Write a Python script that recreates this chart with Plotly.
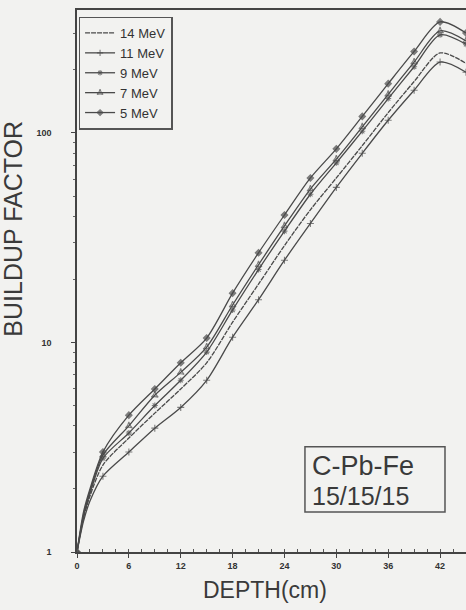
import plotly.graph_objects as go

# Depth in the C-Pb-Fe slab (cm)
depth = [0, 0.75, 1.5, 3, 6, 9, 12, 15, 18, 21, 24, 27, 30, 33, 36, 39, 42, 45]

# Buildup factor versus depth for each source energy
b_5mev = [1, 1.55, 2.0, 3.0, 4.5, 6.0, 8.0, 10.5, 17.2, 26.8, 40.6, 61, 84, 120, 172, 245, 339, 300]
b_7mev = [1, 1.5, 1.95, 2.9, 4.0, 5.6, 7.2, 9.5, 15.1, 23.5, 36, 54, 75, 107, 153, 218, 307, 275]
b_9mev = [1, 1.48, 1.9, 2.8, 3.7, 5.0, 6.6, 9.0, 14.3, 22.3, 34, 51, 72, 102, 146, 207, 294, 265]
b_14mev = [1, 1.45, 1.85, 2.6, 3.5, 4.6, 6.0, 8.0, 12.5, 19, 29, 43, 61, 87, 125, 176, 241, 215]
b_11mev = [1, 1.4, 1.75, 2.3, 3.0, 3.9, 4.9, 6.6, 10.6, 16, 24.7, 37, 55, 80, 115, 160, 218, 195]

legend_order = ["14 MeV", "11 MeV", "9 MeV", "7 MeV", "5 MeV"]
series = {
    "14 MeV": b_14mev,
    "11 MeV": b_11mev,
    "9 MeV": b_9mev,
    "7 MeV": b_7mev,
    "5 MeV": b_5mev,
}
symbols = {
    "14 MeV": None,
    "11 MeV": "cross-thin-open",
    "9 MeV": "asterisk-open",
    "7 MeV": "star-triangle-up-open",
    "5 MeV": "diamond",
}

x_ticks = [0, 6, 12, 18, 24, 30, 36, 42]
y_ticks = [1, 10, 100]

ink = "#4a4a4a"
marker_sizes = [5 if d % 3 == 0 else 0 for d in depth]

fig = go.Figure()
for name in legend_order:
    sym = symbols[name]
    if sym is None:
        fig.add_trace(go.Scatter(
            x=depth, y=series[name], name=name, mode="lines",
            line=dict(color=ink, width=1.3, dash="5px,1px", shape="spline", smoothing=0.8),
        ))
    else:
        fig.add_trace(go.Scatter(
            x=depth, y=series[name], name=name, mode="lines+markers",
            line=dict(color=ink, width=1.3, shape="spline", smoothing=0.8),
            marker=dict(symbol=sym, size=marker_sizes, color=ink,
                        line=dict(color=ink, width=1.1)),
        ))

fig.update_layout(
    width=466, height=610,
    margin=dict(l=77, r=0, t=10, b=58),
    paper_bgcolor="#f2f2f0", plot_bgcolor="#f2f2f0",
    font=dict(family="Liberation Sans, Arial, sans-serif", color="#3a3a3a"),
    showlegend=True,
    legend=dict(
        x=0.004, y=0.988, xanchor="left", yanchor="top",
        bgcolor="rgba(0,0,0,0)", bordercolor="#555", borderwidth=1.5,
        font=dict(size=13, color="#333"), itemwidth=30,
        tracegroupgap=0,
    ),
)

fig.update_xaxes(
    range=[0, 45], tickvals=x_ticks, ticktext=[str(t) for t in x_ticks],
    showgrid=False, zeroline=False,
    showline=True, linecolor="#444", linewidth=1.5, mirror=True,
    ticks="outside", ticklen=4, tickcolor="#444",
    tickfont=dict(size=9, family="Liberation Sans, Arial", color="#333", weight="bold"),
    minor=dict(dtick=1.5, ticks="inside", ticklen=3, tickcolor="#555"),
)
fig.update_yaxes(
    type="log", range=[0, 2.587], tickvals=y_ticks, ticktext=[str(t) for t in y_ticks],
    showgrid=False, zeroline=False,
    showline=True, linecolor="#444", linewidth=1.5, mirror=False,
    ticks="outside", ticklen=4, tickcolor="#444",
    tickfont=dict(size=9, family="Liberation Sans, Arial", color="#333", weight="bold"),
    ticklabelstandoff=18,
    minor=dict(tickvals=[2, 3, 4, 5, 6, 7, 8, 9, 20, 30, 40, 50, 60, 70, 80, 90, 200, 300],
               ticks="outside", ticklen=2, tickcolor="#666"),
)

# Axis titles
fig.add_annotation(text="BUILDUP FACTOR", xref="paper", yref="paper",
                   x=-0.205, y=0.597, textangle=-90, showarrow=False,
                   font=dict(size=25, color="#3a3a3a"))
fig.add_annotation(text="DEPTH(cm)", xref="paper", yref="paper",
                   x=0.483, y=-0.071, yanchor="middle", showarrow=False,
                   font=dict(size=23, color="#3a3a3a"))

# Material label in a framed box
fig.add_shape(type="rect", xref="paper", yref="paper",
              x0=0.586, x1=0.946, y0=0.074, y1=0.194,
              line=dict(color="#555", width=1.5), fillcolor="rgba(0,0,0,0)")
fig.add_annotation(text="C-Pb-Fe", xref="paper", yref="paper",
                   x=0.6, y=0.158, xanchor="left", yanchor="middle",
                   showarrow=False, font=dict(size=27, color="#3a3a3a"))
fig.add_annotation(text="15/15/15", xref="paper", yref="paper",
                   x=0.6, y=0.103, xanchor="left", yanchor="middle",
                   showarrow=False, font=dict(size=25, color="#3a3a3a"))

fig.write_html("out.html")
